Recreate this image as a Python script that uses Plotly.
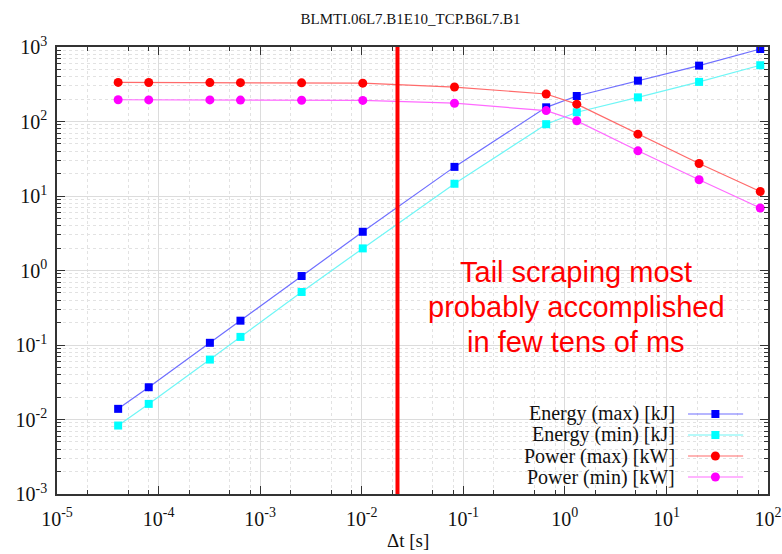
import plotly.graph_objects as go

# ---- data ----
dt_s = [4.0e-5, 8.0e-5, 3.2e-4, 6.4e-4, 2.56e-3, 1.024e-2, 8.19e-2, 0.655, 1.31, 5.24, 20.97, 83.89]
energy_max_kJ = [0.0139, 0.0271, 0.107, 0.212, 0.843, 3.31, 24.6, 155, 220, 353, 562, 940]
energy_min_kJ = [0.0083, 0.0162, 0.0637, 0.1285, 0.515, 1.98, 14.6, 92, 133, 211, 340, 569]
power_max_kW = [335, 334, 333, 332, 330, 327, 290, 234, 171, 67.6, 27.3, 11.5]
power_min_kW = [196, 195, 195, 194, 193, 192, 176, 140, 102, 40.4, 16.5, 6.9]
tail_time_s = 0.0225

series_names = ["Energy (max) [kJ]", "Energy (min) [kJ]", "Power (max) [kW]", "Power (min) [kW]"]
series_values = [energy_max_kJ, energy_min_kJ, power_max_kW, power_min_kW]
line_colors = ["#6e6eff", "#6ff6f6", "#ff6a6a", "#ff6aff"]
marker_colors = ["#0000ff", "#00ffff", "#ff0000", "#ff00ff"]
marker_symbols = ["square", "square", "circle", "circle"]

x_exps = list(range(-5, 3))
y_exps = list(range(-3, 4))
x_ticktext = [f"10<sup>{e}</sup>" for e in x_exps]
y_ticktext = [f"10<sup>{e}</sup>" for e in y_exps]
title_text = "BLMTI.06L7.B1E10_TCP.B6L7.B1"
x_title = "Δt [s]"
note_lines = ["Tail scraping most", "probably accomplished", "in few tens of ms"]

SERIF = "Liberation Serif, Times New Roman, serif"
SANS = "Liberation Sans, Arial, sans-serif"

fig = go.Figure()

for name, vals, lc, mc, sym in zip(series_names, series_values, line_colors, marker_colors, marker_symbols):
    fig.add_trace(go.Scatter(
        x=dt_s, y=vals, mode="lines+markers", name=name, showlegend=False,
        line=dict(color=lc, width=1.2),
        marker=dict(color=mc, symbol=sym, size=9 if sym == "circle" else 8, line=dict(width=0)),
    ))

# vertical red line marking the tail-scraping time
fig.add_shape(type="line", xref="x", yref="paper", x0=tail_time_s, x1=tail_time_s,
              y0=0, y1=1, line=dict(color="#ff0000", width=4))

# ---- manual legend (symbol to the right of the text, gnuplot style) ----
leg_rows_y = [0.179, 0.132, 0.085, 0.038]
for name, lc, mc, sym, yy in zip(series_names, line_colors, marker_colors, marker_symbols, leg_rows_y):
    fig.add_trace(go.Scatter(
        x=[0.8875, 0.965], y=[yy, yy], xaxis="x2", yaxis="y2", mode="lines",
        line=dict(color=lc, width=1.2), showlegend=False, hoverinfo="skip"))
    fig.add_trace(go.Scatter(
        x=[0.926], y=[yy], xaxis="x2", yaxis="y2", mode="markers",
        marker=dict(color=mc, symbol=sym, size=9 if sym == "circle" else 8),
        showlegend=False, hoverinfo="skip"))
    fig.add_annotation(x=0.872, y=yy, xref="paper", yref="paper", text=name,
                       showarrow=False, xanchor="right", yanchor="middle",
                       font=dict(family=SERIF, size=20, color="#111"))

note_y = [0.497, 0.418, 0.340]
for line_txt, yy in zip(note_lines, note_y):
    fig.add_annotation(x=0.73, y=yy, xref="paper", yref="paper", text=line_txt,
                       showarrow=False, xanchor="center", yanchor="middle",
                       font=dict(family=SANS, size=29, color="#ff0000"))

fig.add_annotation(x=0.494, y=-0.103, xref="paper", yref="paper", text=x_title,
                   showarrow=False, xanchor="center", yanchor="middle",
                   font=dict(family=SERIF, size=19, color="#111"))

x_minor = [m * 10.0 ** e for e in range(-5, 2) for m in (2, 5, 8)]
y_minor = [m * 10.0 ** e for e in range(-3, 3) for m in range(2, 10)]

axis_common = dict(
    type="log", showline=True, linecolor="#333", linewidth=1.5, mirror="ticks",
    ticks="inside", ticklen=8, tickcolor="#333", tickwidth=1, automargin=False,
    showgrid=True, gridcolor="#dcdcdc", gridwidth=1, zeroline=False,
    tickfont=dict(family=SERIF, size=20, color="#111"),
)

fig.update_layout(
    width=782, height=554,
    margin=dict(l=57, r=14, t=47, b=60),
    paper_bgcolor="white", plot_bgcolor="white",
    title=dict(text=title_text, x=0.525, xanchor="center", y=0.967, yanchor="middle",
               font=dict(family=SERIF, size=15, color="#111")),
    xaxis=dict(
        **axis_common, range=[-5, 2], tickmode="array",
        tickvals=[10.0 ** e for e in x_exps], ticktext=x_ticktext,
        ticklabelstandoff=6,
        minor=dict(tickmode="array", tickvals=x_minor, ticks="inside", ticklen=4,
                   tickcolor="#333", showgrid=True, gridcolor="#e2e2e2", griddash="dot"),
    ),
    yaxis=dict(
        **axis_common, range=[-3, 3], tickmode="array",
        tickvals=[10.0 ** e for e in y_exps], ticktext=y_ticktext,
        ticklabelstandoff=4,
        minor=dict(tickmode="array", tickvals=y_minor, ticks="inside", ticklen=4,
                   tickcolor="#333", showgrid=True, gridcolor="#e2e2e2", griddash="dot"),
    ),
    xaxis2=dict(overlaying="x", range=[0, 1], visible=False, fixedrange=True),
    yaxis2=dict(overlaying="y", range=[0, 1], visible=False, fixedrange=True),
    showlegend=False,
)

fig.write_html("out.html")
